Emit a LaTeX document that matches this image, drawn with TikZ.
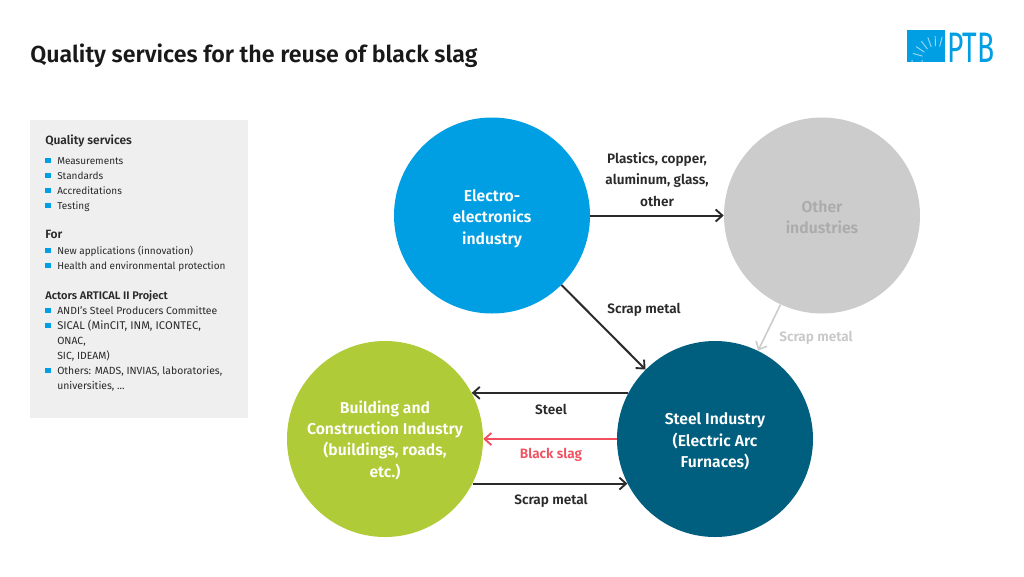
\documentclass[tikz,border=0pt]{standalone}
\usepackage{fontspec}
\setmainfont{Fira Sans}
\newfontfamily\medfont{Fira Sans SemiBold}
\definecolor{ptbblue}{HTML}{009FE3}
\definecolor{othergrey}{HTML}{CCCCCC}
\definecolor{othertext}{HTML}{ABABAB}
\definecolor{limegreen}{HTML}{AFCB37}
\definecolor{steelteal}{HTML}{005F7F}
\definecolor{panelgrey}{HTML}{EFEFEF}
\definecolor{inkdark}{HTML}{2A2A2A}
\definecolor{slagred}{HTML}{F2505F}
\definecolor{greytext}{HTML}{C8C8C8}
\usetikzlibrary{arrows.meta}
\tikzset{
  x=0.75pt, y=-0.75pt,
  hub/.style={circle, minimum size=147pt, inner sep=0pt, align=center, font=\medfont\fontsize{11.8}{16}\selectfont, text=white},
  flow/.style={draw=inkdark, line width=1.5pt, -{Straight Barb[length=5pt,width=9pt,line width=1.4pt]}},
  flowlabel/.style={inner sep=0pt, align=center, font=\medfont\fontsize{10.2}{16}\selectfont, text=inkdark},
  listitem/.style={anchor=base west, inner sep=0pt, font=\fontsize{7.5}{11}\selectfont, text=inkdark},
  listhead/.style={anchor=base west, inner sep=0pt, font=\medfont\fontsize{9}{11}\selectfont, text=inkdark},
  bulletmark/.style={fill=ptbblue, minimum size=4.2pt, inner sep=0pt, draw=none},
  ringline/.style={white, opacity=.6, line width=.7pt},
}
\newcommand{\bulletrow}[3]{%
  \node[bulletmark] (#1b) at (48,#2-3.5) {};
  \node[listitem] (#1) at (57,#2) {#3};
}
\newcommand{\actorsize}{\fontsize{7.8}{11}\selectfont}
\begin{document}
\begin{tikzpicture}
\useasboundingbox (0,0) rectangle (1024,576);
\fill[white] (0,0) rectangle (1024,576);

% title
\node[anchor=base west, inner sep=0pt, font=\medfont\fontsize{17.4}{22}\selectfont, text=black!90] (title) at (30,62) {Quality services for the reuse of black slag};

% institute logo
\fill[ptbblue] (907,30) rectangle (945,62);
\draw[ringline] (912,60) arc[start angle=180, end angle=65, radius=24];
\draw[ringline] (922,60) arc[start angle=180, end angle=65, radius=14];
\foreach \a in {75,92,110,128,146,164}
  \draw[ringline] ({936+14*cos(\a)},{60-14*sin(\a)}) -- ({936+24*cos(\a)},{60-24*sin(\a)});
\node[anchor=base west, inner sep=0pt, xscale=.66, font=\fontsize{32}{33}\selectfont, text=ptbblue] (logo) at (947,62) {PTB};

% side panel
\fill[panelgrey] (30,120) rectangle (248,418);
\node[listhead] (h1) at (45,144) {Quality services};
\bulletrow{m1}{164}{Measurements}
\bulletrow{m2}{179}{Standards}
\bulletrow{m3}{194}{Accreditations}
\bulletrow{m4}{209}{Testing}
\node[listhead] (h2) at (45,238) {For};
\bulletrow{f1}{254}{New applications (innovation)}
\bulletrow{f2}{269}{Health and environmental protection}
\node[listhead, font=\medfont\fontsize{8.3}{11}\selectfont] (h3) at (45,299) {Actors ARTICAL II Project};
\bulletrow{a1}{314}{\actorsize ANDI's Steel Producers Committee}
\bulletrow{a2}{329}{\fontsize{8.4}{11}\selectfont SICAL (MinCIT, INM, ICONTEC,}
\node[listitem] (a2b) at (57,344) {\actorsize ONAC,};
\node[listitem] (a2c) at (57,359) {\actorsize SIC, IDEAM)};
\bulletrow{a3}{374}{\actorsize Others: MADS, INVIAS, laboratories,}
\node[listitem] (a3b) at (57,389) {\actorsize universities, ...};

% industry circles
\node[hub, fill=ptbblue] (elec) at (492,215.5) {};
\node[hub, fill=othergrey] (other) at (822,215.5) {};
\node[hub, fill=limegreen] (build) at (385,439) {};
\node[hub, fill=steelteal] (steel) at (715,439) {};

% circle captions
\node[hub, minimum size=0pt] (elecT) at (492,218.5) {Electro-\\electronics\\industry};
\node[hub, minimum size=0pt, text=othertext] (otherT) at (822,217) {Other\\industries};
\node[hub, minimum size=0pt] (buildT) at (385,440) {Building and\\Construction Industry\\(buildings, roads,\\etc.)};
\node[hub, minimum size=0pt] (steelT) at (715,441.5) {Steel Industry\\(Electric Arc\\Furnaces)};

% material flows
\draw[flow] (elec.east) -- (other.west);
\draw[flow] (elec.-45) -- (steel.135);
\draw[flow, draw=othergrey, -{Straight Barb[length=5pt,width=9pt,line width=1.2pt]}, line width=1.2pt] (other.-115.5) -- (steel.64.7);
\draw[flow] (steel.152) -- (build.28);
\draw[flow, draw=slagred] (steel.west) -- (build.east);
\draw[flow] (build.-27.3) -- (steel.207.3);

% flow labels
\node[flowlabel] (l1) at (657,179.5) {Plastics, copper,\\aluminum, glass,\\other};
\node[flowlabel] (l2) at (644,310) {Scrap metal};
\node[flowlabel, text=greytext] (l3) at (816,338) {Scrap metal};
\node[flowlabel] (l4) at (551,409.5) {Steel};
\node[flowlabel, text=slagred] (l5) at (551,455) {Black slag};
\node[flowlabel] (l6) at (551,501) {Scrap metal};
\end{tikzpicture}
\end{document}
